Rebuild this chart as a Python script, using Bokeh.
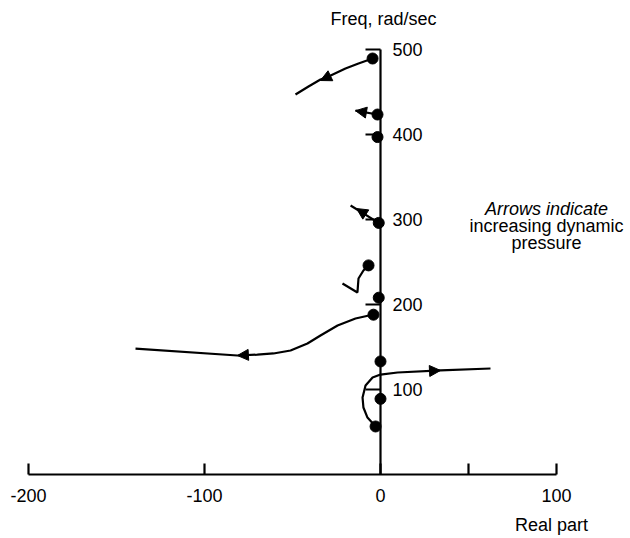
from bokeh.plotting import figure
from bokeh.models import (Range1d, LinearAxis, FixedTicker, Label, Arrow,
                          NormalHead, ColumnDataSource)
from bokeh.embed import file_html
from bokeh.resources import INLINE

# ---------------- data ----------------
x_ticks = [-200, -100, 0, 50, 100]
x_tick_labels = {-200: "-200", -100: "-100", 0: "0", 50: "", 100: "100"}
y_ticks = [100, 200, 300, 400, 500]

# root positions (real part, frequency) at lowest dynamic pressure
dot_x = [-4.5, -1.7, -1.7, -1.0, -6.8, -1.0, -4.0, 0.0, 0.0, -2.8]
dot_y = [489.4, 423.5, 397.0, 296.0, 246.0, 208.0, 188.0, 133.0, 89.0, 56.5]

# loci
top_x = [-4.5, -12.5, -19.9, -29.5, -34.1, -40.9, -48.3]
top_y = [489.4, 483.5, 477.6, 468.2, 464.7, 456.5, 447.0]

left_x = [-4.0, -14.2, -24.4, -34.1, -41.5, -51.1, -60.8, -70.0, -81.3, -139.2]
left_y = [188.2, 183.5, 175.3, 163.5, 154.1, 145.9, 142.4, 141.0, 140.0, 148.2]

right_x = [-2.8, -7.4, -9.7, -10.2, -8.5, -4.5, 0.0, 9.7, 34.1, 62.5]
right_y = [56.5, 67.0, 78.8, 90.6, 104.7, 114.1, 117.6, 120.0, 122.4, 124.7]

m425_x = [-1.7, -14.2]
m425_y = [423.5, 428.0]

m300_x = [-1.0, -17.0]
m300_y = [296.0, 316.5]

m246_x = [-6.8, -9.7, -12.5, -13.1, -21.6]
m246_y = [246.0, 240.0, 230.6, 214.1, 224.7]

# arrow heads (start -> tip)
head_x0 = [-19.9, -60.8, 9.7, -1.7, -1.0]
head_y0 = [477.6, 142.4, 120.0, 423.5, 296.0]
head_x1 = [-34.1, -81.3, 34.1, -14.2, -13.6]
head_y1 = [463.5, 140.0, 122.4, 428.0, 312.9]

note_lines = ["Arrows indicate", "increasing dynamic", "pressure"]
note_y = [311.8, 292.4, 272.9]
y_title = "Freq, rad/sec"
x_title = "Real part"

FONT = "Liberation Sans"
FS = "18px"

# ---------------- figure ----------------
p = figure(width=630, height=538, output_backend="svg", toolbar_location=None,
           x_range=Range1d(-215.91, 142.05), y_range=Range1d(-75.29, 557.65),
           x_axis_location=None, y_axis_location=None, min_border=0)
p.grid.visible = False
p.outline_line_color = None
p.background_fill_color = "white"
p.border_fill_color = "white"


def style_axis(ax, tick_in, standoff):
    ax.major_tick_in = tick_in
    ax.major_tick_out = 0
    ax.minor_tick_line_color = None
    ax.axis_line_width = 2.2
    ax.major_tick_line_width = 2.2
    ax.axis_line_color = "black"
    ax.major_tick_line_color = "black"
    ax.major_label_text_font = FONT
    ax.major_label_text_font_size = FS
    ax.major_label_text_color = "black"
    ax.major_label_standoff = standoff


xa = LinearAxis(fixed_location=0, bounds=(x_ticks[0], x_ticks[-1]),
                ticker=FixedTicker(ticks=x_ticks))
xa.major_label_overrides = x_tick_labels
style_axis(xa, 11, 14)
p.add_layout(xa, "below")

ya = LinearAxis(fixed_location=0, bounds=(0, y_ticks[-1]),
                ticker=FixedTicker(ticks=y_ticks))
style_axis(ya, 15, 12)
p.add_layout(ya, "right")

# loci
p.multi_line(xs=[top_x, left_x, right_x, m425_x, m300_x, m246_x],
             ys=[top_y, left_y, right_y, m425_y, m300_y, m246_y],
             line_color="black", line_width=2.2)

# arrow heads
hsrc = ColumnDataSource(dict(x0=head_x0, y0=head_y0, x1=head_x1, y1=head_y1))
p.add_layout(Arrow(x_start="x0", y_start="y0", x_end="x1", y_end="y1",
                   source=hsrc, line_alpha=0,
                   end=NormalHead(size=11, fill_color="black",
                                  line_color="black", line_width=1)))

# dots
p.scatter(dot_x, dot_y, size=11, color="black")

# texts
p.add_layout(Label(x=0, y=y_ticks[-1], y_offset=31, x_offset=3, text=y_title,
                   text_align="center", text_baseline="middle",
                   text_font=FONT, text_font_size=FS, text_color="black"))
p.add_layout(Label(x=x_ticks[-1], y=0, y_offset=-50, x_offset=-5, text=x_title,
                   text_align="center", text_baseline="middle",
                   text_font=FONT, text_font_size=FS, text_color="black"))
for i, (t, yy) in enumerate(zip(note_lines, note_y)):
    p.add_layout(Label(x=94.3, y=yy, text=t, text_align="center",
                       text_baseline="middle", text_font=FONT,
                       text_font_size=FS, text_color="black",
                       text_font_style="italic" if i == 0 else "normal"))

open("out.html", "w").write(file_html(p, INLINE))
